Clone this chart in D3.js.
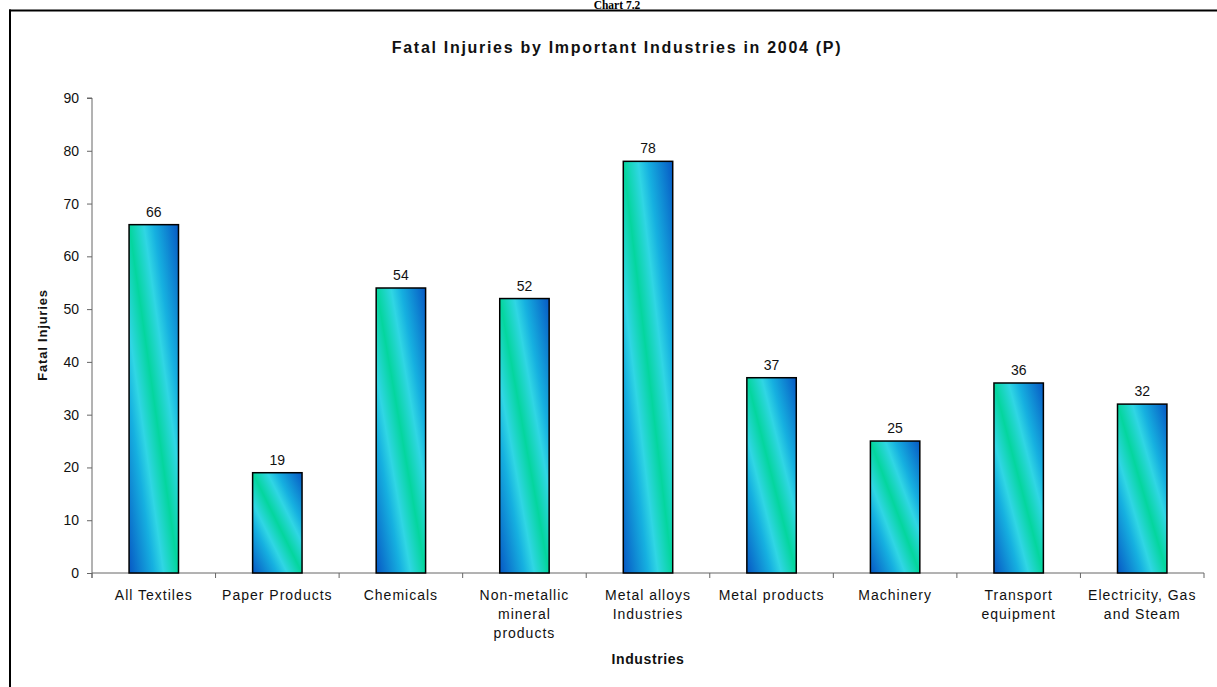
<!DOCTYPE html>
<html><head><meta charset="utf-8">
<script src="https://cdn.jsdelivr.net/npm/d3@7"></script>
<style>body{margin:0;background:#fff;}svg{display:block;}</style>
</head><body>
<svg id="chart" width="1217" height="687"></svg>
<script>
const categories = [
  ["All Textiles"],
  ["Paper Products"],
  ["Chemicals"],
  ["Non-metallic", "mineral", "products"],
  ["Metal alloys", "Industries"],
  ["Metal products"],
  ["Machinery"],
  ["Transport", "equipment"],
  ["Electricity, Gas", "and Steam"]
];
const values = [66, 19, 54, 52, 78, 37, 25, 36, 32];
const yTicks = [0, 10, 20, 30, 40, 50, 60, 70, 80, 90];
const title = "Fatal Injuries by Important Industries in 2004 (P)";
const caption = "Chart 7.2";
const xTitle = "Industries";
const yTitle = "Fatal Injuries";

(function () {
const svg = d3.select("#chart");
const font = "Arial, 'Liberation Sans', sans-serif";

// gradient
const defs = svg.append("defs");
const g = defs.append("linearGradient").attr("id", "barGrad")
  .attr("x1", 0).attr("y1", 1).attr("x2", 1).attr("y2", 0);
[[0, "#0758c4"], [0.25, "#16b0e0"], [0.35, "#30d6e4"], [0.5, "#04d69e"],
 [0.65, "#30d6e4"], [0.75, "#16b0e0"], [1, "#0758c4"]].forEach(([o, c]) =>
  g.append("stop").attr("offset", o).attr("stop-color", c));

// caption at the very top
svg.append("text").attr("x", 617).attr("y", 8.5).attr("text-anchor", "middle")
  .attr("font-family", "'Liberation Serif', 'Times New Roman', serif")
  .attr("font-weight", "bold").attr("font-size", 11.5).text(caption);

// outer frame (top and left visible)
svg.append("line").attr("x1", 9).attr("x2", 1217).attr("y1", 10.5).attr("y2", 10.5)
  .attr("stroke", "#000").attr("stroke-width", 2);
svg.append("line").attr("x1", 10).attr("x2", 10).attr("y1", 9.5).attr("y2", 687)
  .attr("stroke", "#000").attr("stroke-width", 2);

const pLeft = 92, pRight = 1204, pTop = 98, pBottom = 573;
const x = d3.scaleBand().domain(d3.range(categories.length)).range([pLeft, pRight])
  .paddingInner(0.6).paddingOuter(0.3);
const xb = d3.scaleBand().domain(d3.range(categories.length)).range([pLeft, pRight]);
const y = d3.scaleLinear().domain([0, 90]).range([pBottom, pTop]);

// title
svg.append("text").attr("x", 617).attr("y", 53).attr("text-anchor", "middle")
  .attr("font-family", font).attr("font-weight", "bold").attr("font-size", 16)
  .attr("letter-spacing", 1.7).attr("fill", "#111").text(title);

// y axis
const yAxis = svg.append("g").attr("transform", `translate(${pLeft},0)`)
  .call(d3.axisLeft(y).tickValues(yTicks).tickSize(5).tickPadding(8));
yAxis.select(".domain").attr("stroke", "#666").attr("d", `M-5,${pTop}H0V${pBottom + 5}`);
yAxis.selectAll(".tick line").attr("stroke", "#666");
yAxis.selectAll(".tick text").attr("font-family", font).attr("font-size", 14).attr("fill", "#111");

// x axis
const xAxis = svg.append("g").attr("transform", `translate(0,${pBottom})`);
xAxis.append("line").attr("x1", pLeft).attr("x2", pRight).attr("y1", 0).attr("y2", 0).attr("stroke", "#666");
xAxis.selectAll("line.tk").data(d3.range(categories.length + 1)).join("line")
  .attr("class", "tk")
  .attr("x1", i => i < categories.length ? xb(i) : pRight)
  .attr("x2", i => i < categories.length ? xb(i) : pRight)
  .attr("y1", 0).attr("y2", 5).attr("stroke", "#666");
const lab = xAxis.selectAll("text.cat").data(categories).join("text").attr("class", "cat")
  .attr("text-anchor", "middle").attr("font-family", font).attr("font-size", 14)
  .attr("letter-spacing", 1).attr("fill", "#111")
  .attr("transform", (d, i) => `translate(${xb(i) + xb.bandwidth() / 2},27)`);
lab.selectAll("tspan").data(d => d).join("tspan")
  .attr("x", 0).attr("y", (d, j) => j * 19).text(d => d);

// bars
svg.selectAll("rect.bar").data(values).join("rect").attr("class", "bar")
  .attr("x", (d, i) => x(i)).attr("width", x.bandwidth())
  .attr("y", d => y(d)).attr("height", d => y(0) - y(d))
  .attr("fill", "url(#barGrad)").attr("stroke", "#000").attr("stroke-width", 1.5);

// value labels
svg.selectAll("text.val").data(values).join("text").attr("class", "val")
  .attr("x", (d, i) => x(i) + x.bandwidth() / 2).attr("y", d => y(d) - 8)
  .attr("text-anchor", "middle").attr("font-family", font).attr("font-size", 14)
  .attr("fill", "#111").text(d => d);

// axis titles
svg.append("text").attr("x", 648).attr("y", 664).attr("text-anchor", "middle")
  .attr("font-family", font).attr("font-weight", "bold").attr("font-size", 14)
  .attr("letter-spacing", 0.6).attr("fill", "#111").text(xTitle);
svg.append("text").attr("transform", "translate(47,335) rotate(-90)").attr("text-anchor", "middle")
  .attr("font-family", font).attr("font-weight", "bold").attr("font-size", 13)
  .attr("letter-spacing", 0.8).attr("fill", "#111").text(yTitle);
})();
</script>
</body></html>
